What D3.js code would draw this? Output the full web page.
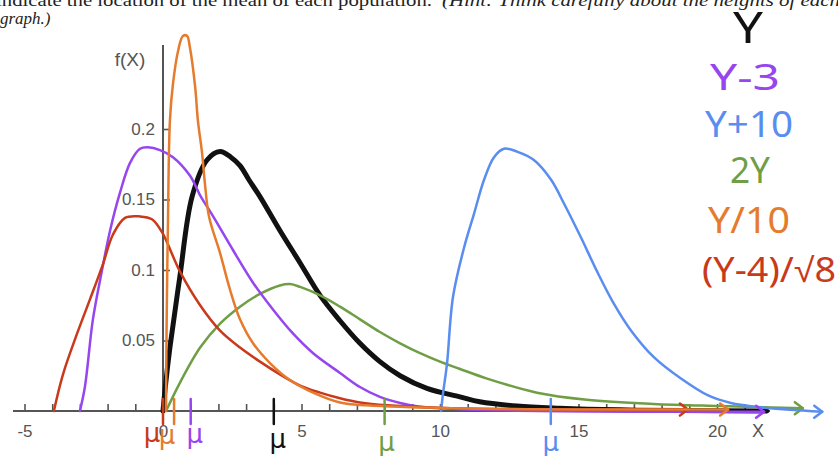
<!DOCTYPE html>
<html><head><meta charset="utf-8">
<script src="https://cdn.jsdelivr.net/npm/d3@7"></script>
<style>body{margin:0;background:#fff;} svg{display:block}</style>
</head><body>
<script>
// ---- data ----
const xTickValues = [-5,-4,-3,-2,-1,0,1,2,3,4,5,6,7,8,9,10,11,12,13,14,15,16,17,18,19,20,21];
const xTickLabels = [-5,0,5,10,15,20];
const yTickValues = [0.05,0.1,0.15,0.2];
const seriesNames = ["Y","Y-3","Y+10","2Y","Y/10","(Y-4)/√8"];
const seriesMeans = [4, 1, 14, 8, 0.4, 0];

const curveY = [[0,0],[0.1,0.02],[0.25,0.045],[0.6,0.094],[1.05,0.152],[1.59,0.178],[2.06,0.184],[2.45,0.180],[2.78,0.174],[3.1,0.164],[3.5,0.152],[4.22,0.128],[4.95,0.105],[5.67,0.082],[6.39,0.064],[7.11,0.048],[7.83,0.035],[8.56,0.025],[9.53,0.016],[10.72,0.010],[11.44,0.0065],[12.78,0.0035],[14.3,0.002],[16.5,0.0008],[18.8,0.0003],[21.8,0]];
const curveYm3 = [[-3,0],[-2.82,0.017],[-2.53,0.065],[-2.2,0.1],[-1.91,0.128],[-1.55,0.155],[-1.19,0.176],[-0.83,0.186],[-0.54,0.187],[-0.11,0.185],[0.36,0.18],[0.97,0.167],[1.34,0.153],[1.81,0.138],[2.53,0.114],[3.25,0.091],[3.97,0.072],[4.69,0.055],[5.42,0.041],[6.39,0.027],[7.11,0.017],[7.83,0.010],[8.56,0.0057],[9.28,0.003],[12.2,0.0005],[21.7,-0.0006]];
const curveYp10 = [[10.04,0],[10.1,0.011],[10.25,0.033],[10.47,0.081],[10.87,0.116],[11.23,0.14],[11.59,0.164],[11.95,0.18],[12.31,0.186],[12.78,0.184],[13.39,0.178],[14.01,0.164],[14.48,0.147],[15.09,0.123],[15.67,0.099],[16.28,0.076],[16.9,0.057],[17.73,0.038],[18.7,0.023],[19.68,0.011],[20.5,0.0057],[21.4,0.003],[23.8,-0.0005]];
const curve2Y = [[0.11,0],[0.61,0.02],[1.34,0.045],[2.06,0.062],[2.78,0.074],[3.5,0.083],[4.22,0.089],[4.58,0.09],[4.95,0.088],[5.67,0.082],[6.39,0.074],[7.11,0.065],[7.83,0.056],[8.56,0.048],[9.28,0.041],[10,0.035],[10.7,0.03],[11.7,0.023],[13.5,0.013],[15.3,0.008],[17.7,0.005],[20.1,0.0035],[23.1,0.002]];
const curveYd10 = [[0.11,0],[0.13,0.06],[0.18,0.135],[0.25,0.206],[0.36,0.232],[0.54,0.255],[0.72,0.266],[0.87,0.266],[0.97,0.258],[1.16,0.230],[1.26,0.206],[1.41,0.183],[1.52,0.160],[1.66,0.138],[2.06,0.112],[2.42,0.086],[2.78,0.065],[3.25,0.048],[3.86,0.034],[4.58,0.022],[5.42,0.013],[6.39,0.006],[7.36,0.004],[10.4,0.002],[20.4,0.001]];
const curveZ = [[-3.94,0],[-3.61,0.026],[-3.1,0.055],[-2.64,0.079],[-2.17,0.104],[-1.81,0.125],[-1.37,0.137],[-0.83,0.138],[-0.4,0.136],[-0.04,0.127],[0.61,0.099],[1.34,0.075],[2.06,0.057],[2.78,0.045],[3.5,0.035],[4.22,0.026],[4.95,0.018],[5.67,0.013],[6.39,0.009],[7.11,0.006],[8.09,0.004],[10.4,0.002],[18.95,0.001]];

// ---- style ----
const colors = ["#111111","#9646ee","#5a8df0","#6f9e45","#e57b2c","#c9391b"];
const widths = [5, 2.5, 2.5, 2.5, 2.5, 2.5];
const arrows = [false, true, true, true, true, true];
const drawOrder = [0,3,2,1,5,4];
const allCurves = [curveY, curveYm3, curveYp10, curve2Y, curveYd10, curveZ];

const W = 838, H = 456;
const svg = d3.select("body").append("svg").attr("width", W).attr("height", H);
const x = d3.scaleLinear().domain([0,20]).range([163,717]);
const y = d3.scaleLinear().domain([0,0.2]).range([411,129]);
const axisColor = "#555";
const tickFont = "'Liberation Sans', Arial, sans-serif";

// top cut-off text
svg.append("text").attr("x",-4).attr("y",6).attr("font-family","'Liberation Serif', serif")
  .attr("font-size",17).attr("fill","#222").attr("textLength",436).attr("lengthAdjust","spacingAndGlyphs")
  .text("indicate the location of the mean of each population.");
svg.append("text").attr("x",442).attr("y",6).attr("font-family","'Liberation Serif', serif")
  .attr("font-style","italic").attr("font-size",17).attr("fill","#222").attr("textLength",398).attr("lengthAdjust","spacingAndGlyphs")
  .text("(Hint: Think carefully about the heights of each");
svg.append("text").attr("x",0).attr("y",24).attr("font-family","'Liberation Serif', serif")
  .attr("font-style","italic").attr("font-size",17).attr("fill","#222").text("graph.)");

// axes
svg.append("line").attr("x1",13).attr("x2",770).attr("y1",y(0)).attr("y2",y(0))
  .attr("stroke",axisColor).attr("stroke-width",2);
svg.append("line").attr("x1",x(0)).attr("x2",x(0)).attr("y1",45).attr("y2",y(0))
  .attr("stroke",axisColor).attr("stroke-width",2);

const xAxis = d3.axisBottom(x).tickValues(xTickValues).tickSizeInner(-7).tickSizeOuter(0).tickPadding(14)
  .tickFormat(d => xTickLabels.includes(d) ? String(d) : "");
const gx = svg.append("g").attr("transform",`translate(0,${y(0)})`).call(xAxis);
gx.select(".domain").remove();
gx.selectAll("line").attr("stroke",axisColor).attr("stroke-width",1.6);
gx.selectAll("text").attr("fill",axisColor).attr("font-size",17).attr("font-family",tickFont);

const yAxis = d3.axisLeft(y).tickValues(yTickValues).tickSizeInner(-7).tickSizeOuter(0).tickPadding(8)
  .tickFormat(d3.format("~g"));
const gy = svg.append("g").attr("transform",`translate(${x(0)},0)`).call(yAxis);
gy.select(".domain").remove();
gy.selectAll("line").attr("stroke",axisColor).attr("stroke-width",1.6);
gy.selectAll("text").attr("fill",axisColor).attr("font-size",17).attr("font-family",tickFont);

svg.append("text").attr("x",130).attr("y",66).attr("text-anchor","middle").attr("fill",axisColor)
  .attr("font-size",19).attr("font-family",tickFont).text("f(X)");
svg.append("text").attr("x",758).attr("y",437).attr("text-anchor","middle").attr("fill",axisColor)
  .attr("font-size",18).attr("font-family",tickFont).text("X");

// curves
const line = d3.line().x(d=>x(d[0])).y(d=>y(d[1])).curve(d3.curveCatmullRom.alpha(0.5));
drawOrder.forEach(i => {
  const pts = allCurves[i];
  svg.append("path").attr("d", line(pts)).attr("fill","none").attr("stroke",colors[i])
    .attr("stroke-width",widths[i]).attr("stroke-linejoin","round").attr("stroke-linecap","round");
  if (arrows[i]) {
    const e = pts[pts.length-1];
    const ex = x(e[0]), ey = y(e[1]);
    svg.append("path").attr("d",`M${ex-8},${ey-6}L${ex},${ey}L${ex-8},${ey+6}`)
      .attr("fill","none").attr("stroke",colors[i]).attr("stroke-width",2.5)
      .attr("stroke-linejoin","round").attr("stroke-linecap","round");
  }
});

// mean markers
const muDx = [4, 4, 0, 2, -7, -11];
const muBase = [448, 443, 451, 451, 444, 442];
seriesMeans.forEach((m,i) => {
  svg.append("line").attr("x1",x(m)).attr("x2",x(m)).attr("y1",399).attr("y2",424)
    .attr("stroke",colors[i]).attr("stroke-width",2.5).attr("stroke-linecap","round");
  svg.append("text").attr("x",x(m)+muDx[i]).attr("y",muBase[i]).attr("text-anchor","middle")
    .attr("font-size",26).attr("font-family","'DejaVu Sans', sans-serif").attr("fill",colors[i]).text("μ");
});

// handwritten legend
const legX = [733, 710, 705, 730, 708, 702];
const legY = [43, 90, 137, 183, 233, 282];
const legLen = [30, 70, 88, 40, 82, 134];
const legSize = [44, 36, 36, 36, 36, 34];
seriesNames.forEach((n,i) => {
  svg.append("text").attr("x",legX[i]).attr("y",legY[i]).attr("fill",colors[i])
    .attr("font-size",legSize[i]).attr("font-family","'Noto Sans', sans-serif")
    .attr("textLength",legLen[i]).attr("lengthAdjust","spacingAndGlyphs").text(n);
});
</script>
</body></html>
